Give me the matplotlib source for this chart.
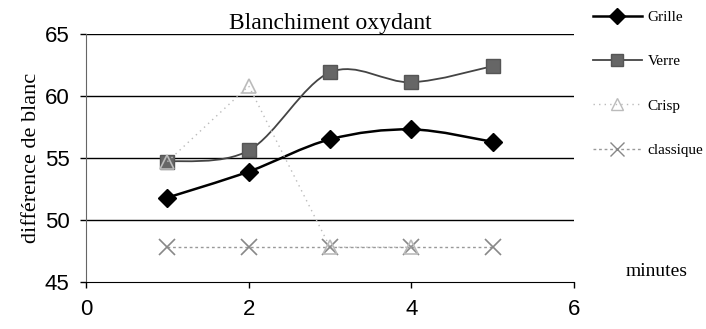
import numpy as np
import matplotlib
matplotlib.use('Agg')
import matplotlib.pyplot as plt
from matplotlib.path import Path
import matplotlib.patches as mpatches
from matplotlib.lines import Line2D

minutes = [1, 2, 3, 4, 5]
grille = [51.8, 53.9, 56.5, 57.3, 56.3]
verre = [54.7, 55.6, 61.9, 61.1, 62.4]
crisp = [54.7, 60.8, 47.8, 47.8, np.nan]
classique = [47.8, 47.8, 47.8, 47.8, 47.8]

serif = 'Liberation Serif'
sans = 'Liberation Sans'


def smooth_path(x, y):
    # catmull-rom style bezier, like excel's smoothed lines
    x = np.asarray(x, float)
    y = np.asarray(y, float)
    verts = [(x[0], y[0])]
    codes = [Path.MOVETO]
    n = len(x)
    for i in range(n - 1):
        i0 = max(i - 1, 0)
        i3 = min(i + 2, n - 1)
        c1 = (x[i] + (x[i + 1] - x[i0]) / 6, y[i] + (y[i + 1] - y[i0]) / 6)
        c2 = (x[i + 1] - (x[i3] - x[i]) / 6, y[i + 1] - (y[i3] - y[i]) / 6)
        verts += [c1, c2, (x[i + 1], y[i + 1])]
        codes += [Path.CURVE4] * 3
    return Path(verts, codes)


fig = plt.figure(figsize=(7.06, 3.29), dpi=100)
ax = fig.add_axes([0.122, 0.143, 0.691, 0.754])

for v in [50, 55, 60, 65]:
    ax.axhline(v, color='black', lw=1.0, zorder=1)

ax.add_patch(mpatches.PathPatch(smooth_path(minutes, grille), fill=False,
                                edgecolor='black', lw=1.8, zorder=3))
ax.plot(minutes, grille, ls='none', marker='D', ms=9.5, color='black', zorder=4)

ax.add_patch(mpatches.PathPatch(smooth_path(minutes, verre), fill=False,
                                edgecolor='#444444', lw=1.3, zorder=3))
ax.plot(minutes, verre, ls='none', marker='s', ms=10, color='#666666',
        mec='#555555', zorder=4)

ax.plot(minutes, classique, ls=(0, (2, 2)), lw=1.0, color='#999999',
        marker='x', ms=11, mew=1.2, mec='#888888', zorder=5)
ax.plot(minutes, crisp, ls=(0, (1, 3)), lw=1.0, color='#bbbbbb',
        marker='^', ms=10, mfc='none', mec='#bbbbbb', mew=1.2, zorder=6)

ax.set_xlim(0, 6)
ax.set_ylim(45, 65)
ax.set_xticks([0, 2, 4, 6])
ax.set_yticks([45, 50, 55, 60, 65])
ax.tick_params(labelsize=16, length=4, width=1, direction='out', pad=8)
for lab in ax.get_xticklabels() + ax.get_yticklabels():
    lab.set_fontfamily(sans)
for s in ['top', 'right']:
    ax.spines[s].set_visible(False)
ax.spines['left'].set_color('#666666')
ax.spines['bottom'].set_color('black')

ax.set_title('Blanchiment oxydant', fontsize=17, family=serif, pad=2)
ax.set_ylabel('différence de blanc', fontsize=16, family=serif, labelpad=3)
fig.text(0.886, 0.16, 'minutes', fontsize=14, family=serif)

handles = [
    Line2D([], [], color='black', lw=1.8, marker='D', ms=8),
    Line2D([], [], color='#444444', lw=1.3, marker='s', ms=9,
           mfc='#666666', mec='#555555'),
    Line2D([], [], color='#bbbbbb', lw=1.0, ls=(0, (1, 3)), marker='^',
           ms=9, mfc='none', mec='#bbbbbb'),
    Line2D([], [], color='#999999', lw=1.0, ls=(0, (2, 2)), marker='x',
           ms=10, mec='#888888'),
]
fig.legend(handles, ['Grille', 'Verre', 'Crisp', 'classique'],
           loc='upper left', bbox_to_anchor=(0.82, 1.01), frameon=False,
           handlelength=3.2, handletextpad=0.4, labelspacing=2.0,
           prop={'family': serif, 'size': 11})

fig.savefig('out.png', dpi=100)
